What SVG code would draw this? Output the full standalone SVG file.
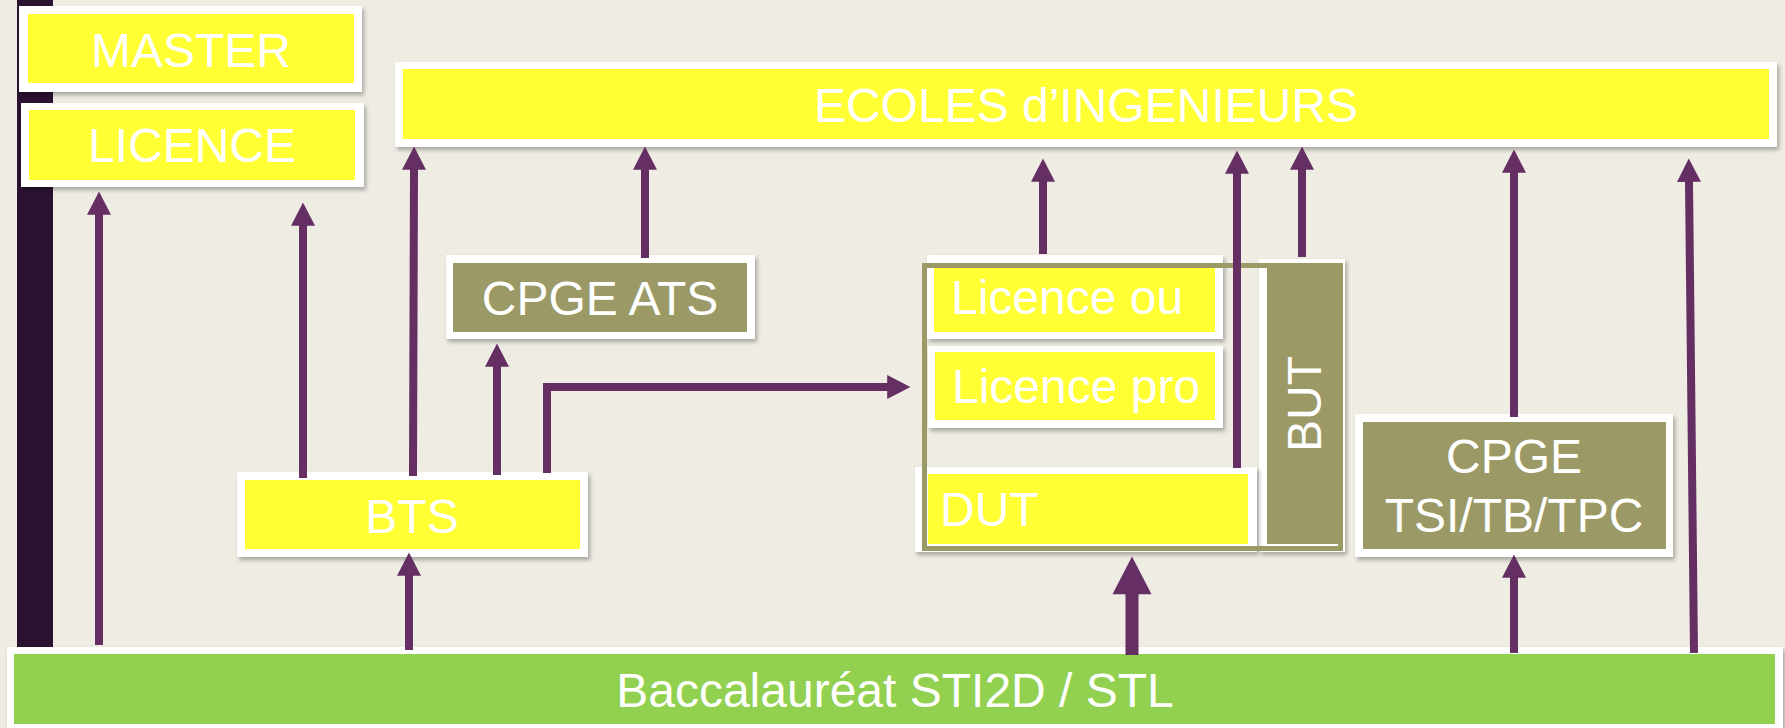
<svg xmlns="http://www.w3.org/2000/svg" width="1785" height="728" viewBox="0 0 1785 728">
<style>
.frame{fill:#ffffff;filter:url(#sh)}
.yel{fill:#ffff33}
.olv{fill:#9b9965}
.grn{fill:#92d050}
.t{font-family:"Liberation Sans",Arial,sans-serif;font-size:48px;fill:#ffffff}
.c{text-anchor:middle}
.ln{fill:none;stroke:#652f63;stroke-width:8;marker-end:url(#ah)}
</style>
<defs>
<filter id="sh" x="-5%" y="-20%" width="110%" height="140%">
<feDropShadow dx="2" dy="3" stdDeviation="2" flood-color="#000" flood-opacity="0.3"/>
</filter>
<marker id="ah" markerUnits="strokeWidth" markerWidth="3" markerHeight="3" refX="0.1" refY="1.5" orient="auto" overflow="visible">
<path d="M0,0 L2.9,1.5 L0,3 z" fill="#652f63"/>
</marker>
</defs>
<rect x="0" y="0" width="1785" height="728" fill="#efece4"/>
<rect x="17" y="0" width="36" height="650" fill="#2b1230"/>

<g id="master">
<rect class="frame" x="19" y="6" width="343" height="86"/>
<rect class="yel" x="28" y="14" width="326" height="69"/>
<text class="t c" x="191" y="67">MASTER</text>
</g>
<g id="licence">
<rect class="frame" x="21" y="103" width="343" height="84"/>
<rect class="yel" x="29" y="110" width="326" height="70"/>
<text class="t c" x="192" y="162">LICENCE</text>
</g>
<g id="ecoles">
<rect class="frame" x="395" y="62" width="1382" height="85"/>
<rect class="yel" x="403" y="69" width="1366" height="70"/>
<text class="t c" x="1086" y="122">ECOLES d’INGENIEURS</text>
</g>
<g id="cpge-ats">
<rect class="frame" x="446" y="255" width="309" height="84"/>
<rect class="olv" x="453" y="263" width="294" height="69"/>
<text class="t c" x="600" y="315">CPGE ATS</text>
</g>
<g id="bts">
<rect class="frame" x="237" y="472" width="351" height="85"/>
<rect class="yel" x="245" y="480" width="335" height="69"/>
<text class="t c" x="412" y="533">BTS</text>
</g>
<g id="but">
<rect class="frame" x="1259" y="259" width="86" height="293"/>
<rect class="olv" x="1267" y="264" width="75" height="280"/>
<text class="t c" transform="translate(1321 404) rotate(-90)" x="0" y="0">BUT</text>
</g>
<g id="licence-ou">
<rect class="frame" x="927" y="255" width="296" height="84"/>
<rect class="yel" x="934" y="263" width="281" height="69"/>
<text class="t" x="951" y="314">Licence ou</text>
</g>
<g id="licence-pro">
<rect class="frame" x="928" y="346" width="295" height="82"/>
<rect class="yel" x="935" y="352" width="280" height="68"/>
<text class="t" x="952" y="403">Licence pro</text>
</g>
<g id="dut">
<rect class="frame" x="915" y="467" width="342" height="85"/>
<rect class="yel" x="928" y="474" width="320" height="70"/>
<text class="t" x="940" y="526">DUT</text>
</g>
<g id="dut-but-frame">
<rect x="924.5" y="265.5" width="416" height="283" fill="none" stroke="#9b9965" stroke-width="5"/>
</g>
<g id="cpge-tsi">
<rect class="frame" x="1355" y="414" width="318" height="143"/>
<rect class="olv" x="1363" y="422" width="303" height="127"/>
<text class="t c" x="1514" y="473">CPGE</text>
<text class="t c" x="1514" y="532">TSI/TB/TPC</text>
</g>
<g id="bac">
<rect class="frame" x="7" y="647" width="1776" height="85"/>
<rect class="grn" x="14" y="654" width="1761" height="70"/>
<text class="t c" x="895" y="707">Baccalauréat STI2D / STL</text>
</g>

<g id="connectors">
<path class="ln" d="M99,645 L99,214"/>
<path class="ln" d="M303,478 L303,225"/>
<path class="ln" d="M413,476 L414,169"/>
<path class="ln" d="M645,258 L645,169"/>
<path class="ln" d="M497,475 L497,366"/>
<path class="ln" d="M547,473 L547,387 L888,387"/>
<path class="ln" d="M409,650 L409,575"/>
<path class="ln" d="M1043,254 L1043,181"/>
<path class="ln" d="M1237,468 L1237,173"/>
<path class="ln" d="M1302,257 L1302,169"/>
<path class="ln" d="M1514,417 L1514,172"/>
<path class="ln" d="M1694,653 L1689,181"/>
<path class="ln" d="M1514,653 L1514,577"/>
<path class="ln" style="stroke-width:13" d="M1132,655 L1132,593"/>
</g>
</svg>
